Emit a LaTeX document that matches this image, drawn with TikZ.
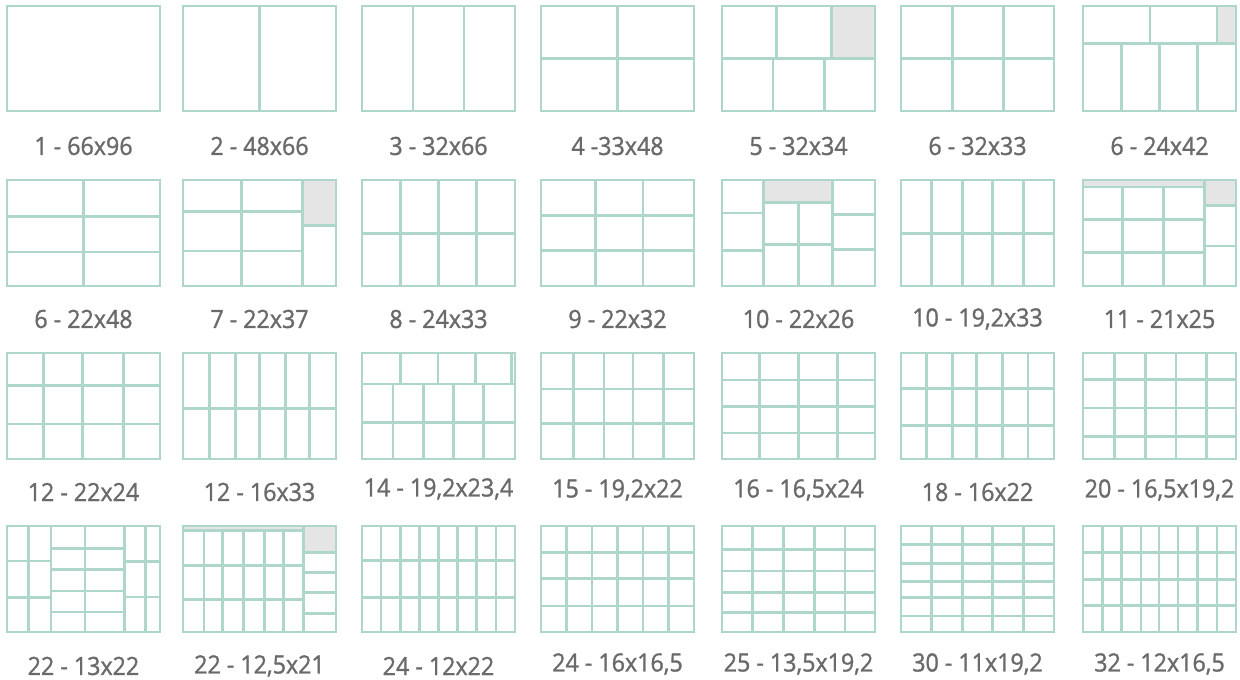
\documentclass[tikz,border=0pt]{standalone}
\usepackage{fontspec}
\setmainfont{Open Sans}
\newfontfamily\labfont{Open Sans}[FakeBold=1.2,FakeStretch=0.93]
\definecolor{gridc}{HTML}{AED6CA}
\definecolor{cellg}{HTML}{E5E5E5}
\definecolor{labc}{HTML}{6A6A6A}
\tikzset{
  gl/.style={draw=gridc, line width=1.35pt},
  gcell/.style={fill=cellg},
  lab/.style={text=labc, font=\labfont\fontsize{12.5}{14}\selectfont, inner sep=0pt, anchor=center}
}
\newcommand{\myV}[3]{\foreach \q in {#1} {\draw[gl] (\q,#2)--(\q,#3);}}
\newcommand{\myH}[3]{\foreach \q in {#1} {\draw[gl] (#2,\q)--(#3,\q);}}
\newcommand{\gridbox}[4]{%
  \begin{scope}[shift={(#1,#2)}]
  \begin{scope}[x=76.5pt,y=-#3]
  #4
  \draw[gl] (0,0) rectangle (1,1);
  \end{scope}
  \end{scope}}
\begin{document}
\begin{tikzpicture}[x=0.5pt,y=-0.5pt]
\useasboundingbox (0,0) rectangle (1240,679);
\fill[white] (0,0) rectangle (1240,679);
% ---------- row 1 ----------
\gridbox{7}{6}{52.5pt}{}
\gridbox{183}{6}{52.5pt}{\myV{0.5}{0}{1}}
\gridbox{362}{6}{52.5pt}{\myV{0.3333,0.6667}{0}{1}}
\gridbox{541}{6}{52.5pt}{\myV{0.5}{0}{1}\myH{0.5}{0}{1}}
\gridbox{722}{6}{52.5pt}{\fill[gcell] (0.716,0) rectangle (1,0.5);
  \myH{0.5}{0}{1}\myV{0.358,0.716}{0}{0.5}\myV{0.334,0.669}{0.5}{1}}
\gridbox{901}{6}{52.5pt}{\myH{0.5}{0}{1}\myV{0.335,0.668}{0}{1}}
\gridbox{1083}{6}{52.5pt}{\fill[gcell] (0.876,0) rectangle (1,0.354);
  \myH{0.354}{0}{1}\myV{0.438,0.876}{0}{0.354}\myV{0.25,0.5,0.75}{0.354}{1}}
% ---------- row 2 ----------
\gridbox{7}{180}{53pt}{\myV{0.5}{0}{1}\myH{0.342,0.68}{0}{1}}
\gridbox{183}{180}{53pt}{\fill[gcell] (0.78,0) rectangle (1,0.428);
  \myV{0.383,0.78}{0}{1}\myH{0.30,0.67}{0}{0.78}\myH{0.428}{0.78}{1}}
\gridbox{362}{180}{53pt}{\myV{0.25,0.5,0.75}{0}{1}\myH{0.506}{0}{1}}
\gridbox{541}{180}{53pt}{\myV{0.354,0.667}{0}{1}\myH{0.332,0.665}{0}{1}}
\gridbox{722}{180}{53pt}{\fill[gcell] (0.273,0) rectangle (0.721,0.215);
  \myV{0.273,0.721}{0}{1}\myH{0.215,0.607}{0.273}{0.721}\myV{0.498}{0.215}{1}
  \myH{0.31,0.665}{0}{0.273}\myH{0.326,0.658}{0.721}{1}}
\gridbox{901}{180}{53pt}{\myV{0.2,0.4,0.6,0.8}{0}{1}\myH{0.503}{0}{1}}
\gridbox{1083}{180}{53pt}{\fill[gcell] (0,0) rectangle (1,0.065);
  \fill[gcell] (0.795,0) rectangle (1,0.242);
  \myH{0.065}{0}{0.795}\myV{0.26,0.525}{0.065}{1}\myV{0.795}{0}{1}
  \myH{0.371,0.682}{0}{0.795}\myH{0.242,0.623}{0.795}{1}}
% ---------- row 3 ----------
\gridbox{7}{353}{53pt}{\myV{0.239,0.493,0.763}{0}{1}\myH{0.307,0.671}{0}{1}}
\gridbox{183}{353}{53pt}{\myV{0.173,0.344,0.501,0.672,0.825}{0}{1}\myH{0.522}{0}{1}}
\gridbox{362}{353}{53pt}{\myH{0.293}{0}{1}\myV{0.251,0.497,0.741,0.975}{0}{0.293}
  \myV{0.202,0.404,0.598,0.796}{0.293}{1}\myH{0.656}{0}{1}}
\gridbox{541}{353}{53pt}{\myV{0.211,0.411,0.601,0.8}{0}{1}\myH{0.339,0.665}{0}{1}}
\gridbox{722}{353}{53pt}{\myV{0.246,0.499,0.757}{0}{1}\myH{0.255,0.503,0.755}{0}{1}}
\gridbox{901}{353}{53pt}{\myV{0.167,0.336,0.494,0.664,0.83}{0}{1}\myH{0.334,0.682}{0}{1}}
\gridbox{1083}{353}{53pt}{\myV{0.207,0.408,0.607,0.808}{0}{1}\myH{0.248,0.519,0.787}{0}{1}}
% ---------- row 4 ----------
\gridbox{7}{526}{53pt}{\myV{0.142,0.288,0.509,0.77,0.903}{0}{1}
  \myH{0.33,0.676}{0}{0.288}\myH{0.214,0.409,0.613,0.811}{0.288}{0.77}
  \myH{0.336,0.67}{0.77}{1}}
\gridbox{183}{526}{53pt}{\fill[gcell] (0,0) rectangle (1,0.04);
  \fill[gcell] (0.788,0) rectangle (1,0.252);
  \myH{0.04}{0}{0.788}\myV{0.137,0.258,0.394,0.533,0.659}{0.04}{1}\myV{0.788}{0}{1}
  \myH{0.371,0.692}{0}{0.788}\myH{0.252,0.44,0.626,0.824}{0.788}{1}}
\gridbox{362}{526}{53pt}{\myV{0.125,0.25,0.375,0.5,0.625,0.75,0.875}{0}{1}\myH{0.326,0.674}{0}{1}}
\gridbox{541}{526}{53pt}{\myV{0.1667,0.3333,0.5,0.6667,0.8333}{0}{1}\myH{0.25,0.497,0.755}{0}{1}}
\gridbox{722}{526}{53pt}{\myV{0.2,0.403,0.603,0.803}{0}{1}\myH{0.22,0.425,0.629,0.818}{0}{1}}
\gridbox{901}{526}{53pt}{\myV{0.2,0.4,0.6,0.8}{0}{1}\myH{0.177,0.351,0.525,0.674,0.848}{0}{1}}
\gridbox{1083}{526}{53pt}{\myV{0.127,0.251,0.379,0.497,0.621,0.749,0.876}{0}{1}\myH{0.247,0.506,0.753}{0}{1}}
% ---------- labels ----------
\node[lab] (l1) at (83.5,146) {1 - 66x96};
\node[lab] (l2) at (259.5,146) {2 - 48x66};
\node[lab] (l3) at (438.5,146) {3 - 32x66};
\node[lab] (l4) at (617.5,146) {4 -33x48};
\node[lab] (l5) at (798.5,146) {5 - 32x34};
\node[lab] (l6) at (977.5,146) {6 - 32x33};
\node[lab] (l7) at (1159.5,146) {6 - 24x42};
\node[lab] (l8) at (83.5,319) {6 - 22x48};
\node[lab] (l9) at (259.5,319) {7 - 22x37};
\node[lab] (l10) at (438.5,319) {8 - 24x33};
\node[lab] (l11) at (617.5,319) {9 - 22x32};
\node[lab] (l12) at (798.5,319) {10 - 22x26};
\node[lab] (l13) at (977.5,319) {10 - 19,2x33};
\node[lab] (l14) at (1159.5,319) {11 - 21x25};
\node[lab] (l15) at (83.5,492) {12 - 22x24};
\node[lab] (l16) at (259.5,492) {12 - 16x33};
\node[lab] (l17) at (438.5,489) {14 - 19,2x23,4};
\node[lab] (l18) at (617.5,490) {15 - 19,2x22};
\node[lab] (l19) at (798.5,490) {16 - 16,5x24};
\node[lab] (l20) at (977.5,492) {18 - 16x22};
\node[lab] (l21) at (1159.5,490) {20 - 16,5x19,2};
\node[lab] (l22) at (83.5,666) {22 - 13x22};
\node[lab] (l23) at (259.5,666) {22 - 12,5x21};
\node[lab] (l24) at (438.5,666) {24 - 12x22};
\node[lab] (l25) at (617.5,664) {24 - 16x16,5};
\node[lab] (l26) at (798.5,664) {25 - 13,5x19,2};
\node[lab] (l27) at (977.5,664) {30 - 11x19,2};
\node[lab] (l28) at (1159.5,664) {32 - 12x16,5};
\end{tikzpicture}
\end{document}
